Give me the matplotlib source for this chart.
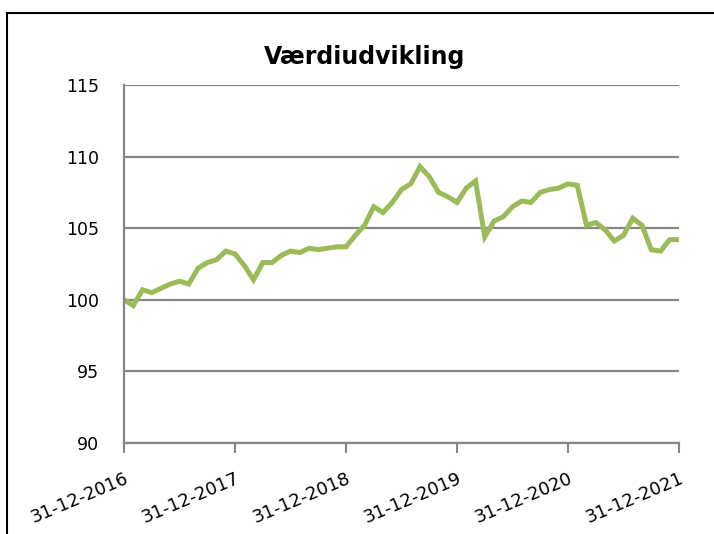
import matplotlib
matplotlib.use("Agg")
import matplotlib.pyplot as plt
from matplotlib.lines import Line2D

title = "Værdiudvikling"

# monthly index values, 31-12-2016 .. 31-12-2021
values = [100.0, 99.6, 100.7, 100.5, 100.8, 101.1, 101.3, 101.1, 102.2, 102.6,
          102.8, 103.4, 103.2, 102.4, 101.4, 102.6, 102.6, 103.1, 103.4, 103.3,
          103.6, 103.5, 103.6, 103.7, 103.7, 104.5, 105.2, 106.5, 106.1, 106.8,
          107.7, 108.1, 109.3, 108.6, 107.5, 107.2, 106.8, 107.8, 108.3, 104.4,
          105.5, 105.8, 106.5, 106.9, 106.8, 107.5, 107.7, 107.8, 108.1, 108.0,
          105.2, 105.4, 104.9, 104.1, 104.5, 105.7, 105.2, 103.5, 103.4, 104.2,
          104.2]
tick_labels = ["31-12-2016", "31-12-2017", "31-12-2018", "31-12-2019",
               "31-12-2020", "31-12-2021"]
y_ticks = [90, 95, 100, 105, 110, 115]

months = list(range(len(values)))
grey = "#868686"

fig = plt.figure(figsize=(7.14, 5.34), dpi=100)
ax = fig.add_axes([0.1737, 0.1704, 0.7773, 0.6704])

ax.plot(months, values, color="#9BBB59", linewidth=3.6, solid_joinstyle="miter")

ax.set_xlim(0, 60)
ax.set_ylim(90, 115)
ax.set_yticks(y_ticks)
ax.set_xticks(range(0, 61, 12))
ax.set_xticklabels(tick_labels, rotation=23, ha="right", va="top",
                   rotation_mode="anchor", fontsize=13)
ax.tick_params(axis="y", length=0, pad=18, labelsize=12.5)
ax.tick_params(axis="x", length=7, width=1.5, color=grey, pad=12)

ax.grid(axis="y", color=grey, linewidth=1.6)
ax.set_axisbelow(True)
for side in ["top", "right"]:
    ax.spines[side].set_visible(False)
for side in ["left", "bottom"]:
    ax.spines[side].set_color(grey)
    ax.spines[side].set_linewidth(1.6)

fig.text(0.511, 0.893, title, ha="center", va="center",
         fontsize=17, fontweight="bold")

# chart border (only top and left visible in the crop)
fig.add_artist(Line2D([0.0098, 0.0098], [0.0, 0.9757], color="black", linewidth=1.5))
fig.add_artist(Line2D([0.0098, 1.0], [0.9757, 0.9757], color="black", linewidth=1.5))

plt.savefig("out.png", dpi=100)
